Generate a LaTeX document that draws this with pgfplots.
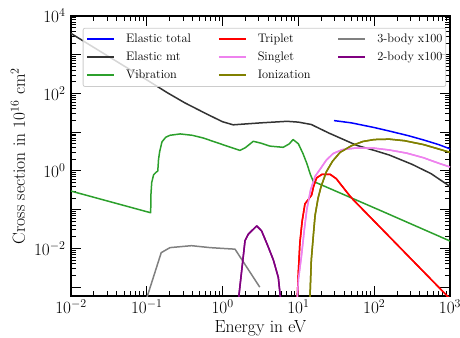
\documentclass[border=0pt]{standalone}
\usepackage{pgfplots}
\pgfplotsset{compat=1.18}
\definecolor{cblue}{HTML}{0000FF}
\definecolor{cblack}{HTML}{333333}
\definecolor{cgreen}{HTML}{2CA02C}
\definecolor{cred}{HTML}{FF0000}
\definecolor{cviolet}{HTML}{EE82EE}
\definecolor{colive}{HTML}{808000}
\definecolor{cgray}{HTML}{808080}
\definecolor{cpurple}{HTML}{800080}
\pgfplotstableread{
E sig
29.5 19.95
50.1 17.4
100 13.2
158.5 10.7
282 8.13
447 6.31
708 4.79
1000 3.72
}\elastictotal
\pgfplotstableread{
E sig
0.01 3548
0.0316 891
0.1 224
0.186 105
0.316 57.5
0.617 29.5
1 18.6
1.38 15.5
3.16 17.4
7.08 19.1
10 18.2
14.8 15.8
25.1 9.55
58.9 4.57
100 3.39
158.5 2.57
316 1.48
562 0.851
1000 0.398
}\elasticmt
\pgfplotstableread{
E sig
0.01 0.302
0.1125 0.0832
0.1135 0.251
0.1161 0.501
0.123 0.794
0.1318 0.912
0.1396 1.0
0.1429 2.0
0.1479 3.16
0.1585 5.62
0.1778 7.41
0.2023 8.32
0.2754 9.02
0.398 8.32
0.556 7.08
1.0 4.79
1.698 3.39
1.995 3.98
2.54 5.82
3.162 5.25
4.22 4.37
6.31 4.07
7.59 5.01
8.51 6.46
10 5.01
11.48 2.82
12.88 1.585
14.45 0.794
15.74 0.537
120.2 0.0955
1000 0.0155
}\vibration
\pgfplotstableread{
E sig
9.66 0.0005
10 0.0025
10.47 0.0141
11.2 0.05
12.2 0.141
13.5 0.182
14.96 0.24
15.85 0.398
17.4 0.661
20.4 0.813
26.3 0.813
31.6 0.631
38.0 0.398
47.9 0.224
52.7 0.182
1000 0.0005
}\triplet
\pgfplotstableread{
E sig
9.66 0.0005
10 0.00158
10.96 0.0063
12.0 0.0316
12.9 0.1
14.45 0.316
16.6 0.724
19.3 1.10
23.4 1.91
28.8 2.82
38.0 3.55
56.2 3.89
97.7 3.89
158.5 3.47
269 2.88
447 2.19
661 1.66
1000 1.26
}\singlet
\pgfplotstableread{
E sig
14.19 0.0005
14.8 0.005
15.85 0.0251
16.6 0.0708
18.2 0.2
19.95 0.398
23.4 0.955
28.2 1.78
35.5 3.02
50.1 4.47
70.8 5.75
100 6.46
158.5 6.61
251 6.03
447 4.79
1000 3.02
}\ionization
\pgfplotstableread{
E sig
0.0955 0.000398
0.155 0.00776
0.2023 0.01047
0.389 0.01175
0.682 0.01047
1.459 0.00955
3.09 0.0010
}\threebody
\pgfplotstableread{
E sig
1.603 0.000398
1.977 0.01585
2.188 0.0234
2.818 0.038
3.273 0.0282
3.981 0.0112
4.677 0.00501
5.433 0.00178
5.888 0.000398
}\twobody
\begin{document}
\begin{tikzpicture}
\useasboundingbox (-71bp,-42bp) rectangle (389bp,296bp);
\begin{axis}[
  at={(0,0)}, anchor=south west, scale only axis,
  width=379bp, height=280bp,
  xmode=log, ymode=log,
  xmin=1e-2, xmax=1e3, ymin=5.9e-4, ymax=1e4,
  xtick={1e-2,1e-1,1,10,100,1000},
  xticklabels={$10^{-2}$,$10^{-1}$,$10^{0}$,$10^{1}$,$10^{2}$,$10^{3}$},
  ytick={1e-3,1e-2,1e-1,1,10,100,1000,10000},
  yticklabels={,$10^{-2}$,,$10^{0}$,,$10^{2}$,,$10^{4}$},
  minor ytick={},
  tick align=inside,
  major tick length=10.5bp, minor tick length=5bp,
  every tick/.append style={black, line width=0.9bp},
  axis line style={line width=1.2bp, black},
  tick label style={font=\fontsize{17.6}{20}\selectfont, inner sep=0pt},
  xticklabel style={anchor=base, yshift=-17.3bp},
  yticklabel style={anchor=base east, xshift=-5.3bp, yshift=-7bp},
  label style={font=\fontsize{17.6}{20}\selectfont},
  xlabel={Energy in eV},
  ylabel={Cross section in $10^{16}$ cm$^2$},
  xlabel style={at={(axis description cs:0.5,-0.131)}, anchor=base},
  ylabel style={at={(axis description cs:-0.1214,0.5)}, anchor=base},
  every axis plot/.append style={line width=1.5bp, line join=round},
  legend columns=3,
  legend cell align=left,
  legend image code/.code={\draw[#1, line width=1.8bp] (0bp,0bp) -- (27bp,0bp);},
  legend style={at={(axis description cs:0.0309,0.958)}, anchor=north west,
    draw=black!20, fill=white, fill opacity=0.8, text opacity=1, draw opacity=1,
    rounded corners=2bp, line width=0.8bp, inner xsep=3.3bp, inner ysep=5.2bp,
    font=\fontsize{12.4}{14}\selectfont,
    column sep=11bp, row sep=6bp,
    /tikz/every even column/.append style={column sep=27bp},
    nodes={inner sep=0pt, text height=9.3bp, text depth=2.7bp}},
]
% legend order is row-major
\addplot[cblue] table[x=E, y=sig] {\elastictotal};
\addlegendentry{Elastic total}
\addplot[cred] table[x=E, y=sig] {\triplet};
\addlegendentry{Triplet}
\addplot[cgray] table[x=E, y=sig] {\threebody};
\addlegendentry{3-body x100}
\addplot[cblack] table[x=E, y=sig] {\elasticmt};
\addlegendentry{Elastic mt}
\addplot[cviolet] table[x=E, y=sig] {\singlet};
\addlegendentry{Singlet}
\addplot[cpurple] table[x=E, y=sig] {\twobody};
\addlegendentry{2-body x100}
\addplot[cgreen] table[x=E, y=sig] {\vibration};
\addlegendentry{Vibration}
\addplot[colive] table[x=E, y=sig] {\ionization};
\addlegendentry{Ionization}
% redraw so that the later series lie on top as in the original
\addplot[cred, forget plot] table[x=E, y=sig] {\triplet};
\addplot[cviolet, forget plot] table[x=E, y=sig] {\singlet};
\addplot[colive, forget plot] table[x=E, y=sig] {\ionization};
\addplot[cpurple, forget plot] table[x=E, y=sig] {\twobody};
\end{axis}
\end{tikzpicture}
\end{document}
